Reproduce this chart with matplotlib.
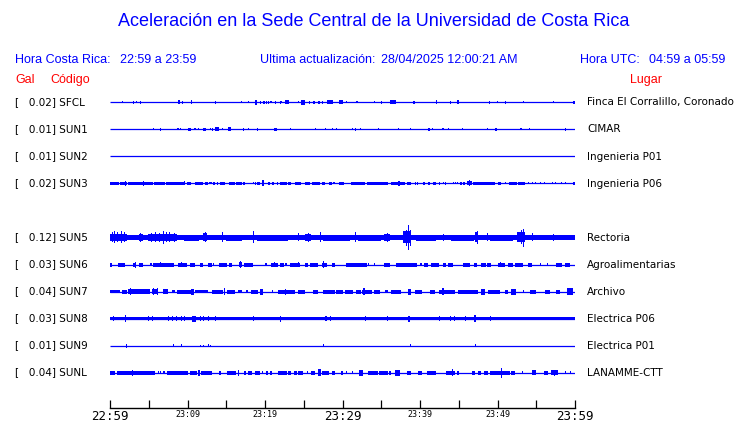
import matplotlib
matplotlib.use("Agg")
import matplotlib.pyplot as plt
from matplotlib.transforms import blended_transform_factory

# estaciones (fila, codigo, pico en Gal, lugar)
CODES = ["SFCL", "SUN1", "SUN2", "SUN3", "SUN5", "SUN6", "SUN7", "SUN8", "SUN9", "SUNL"]
ROWS = [0, 1, 2, 3, 5, 6, 7, 8, 9, 10]
GAL = [0.02, 0.01, 0.01, 0.02, 0.12, 0.03, 0.04, 0.03, 0.01, 0.04]
PLACES = ["Finca El Corralillo, Coronado", "CIMAR", "Ingenieria P01", "Ingenieria P06",
          "Rectoria", "Agroalimentarias", "Archivo", "Electrica P06", "Electrica P01",
          "LANAMME-CTT"]
# ancho base de cada traza (mitad, en px de amplitud)
BASE = [0.5, 0.5, 0.5, 0.5, 2.5, 0.5, 0.5, 1.8, 0.5, 0.5]

TICK_MIN = list(range(0, 61, 5))
TICK_LABELS = ["22:59", "", "23:09", "", "23:19", "", "23:29", "", "23:39", "", "23:49", "", "23:59"]

# rafagas: (minuto inicio, minuto fin, media amplitud)
SFCL_B = [(1.6,1.6,1),(3.0,3.0,1.5),(3.4,3.4,1),(3.9,3.9,1.5),(8.8,9.0,2),(9.3,9.3,1.5),(10.4,10.6,2),
          (13.5,13.5,1.5),(16.9,16.9,1),(17.8,17.8,1),(18.7,19.0,2.5),(19.3,19.3,1.5),(19.8,19.8,1.5),
          (20.1,20.1,1.5),(20.4,20.4,1.5),(20.7,20.7,1),(21.3,21.3,1.5),(21.9,21.9,1.5),(22.1,22.1,1),
          (22.6,23.1,2),(24.2,24.2,1),(24.7,25.2,2.5),(25.7,25.7,1.5),(26.2,26.5,1.5),(26.9,26.9,1.5),
          (27.3,27.3,1.5),(28.0,28.8,2),(29.5,30.0,2),(30.5,30.5,1),(31.8,31.8,1),(34.0,34.0,1),
          (35.0,35.1,1.5),(36.1,36.9,2),(39.1,39.4,1.5),(42.1,42.1,2),(43.9,43.9,1.5),(44.8,45.0,2),
          (48.9,48.9,1.5),(49.9,49.9,1),(51.0,51.0,1.5),(53.3,53.3,1),(57.2,57.2,1),(59.8,59.8,1.5)]
SUN1_B = [(5.6,5.6,1),(6.4,6.5,1.5),(8.7,8.7,1),(9.0,9.0,1),(10.1,10.4,1.5),(10.9,10.9,1),(11.3,11.3,1),
          (12.0,12.4,1.5),(12.9,12.9,1),(13.1,13.3,1.5),(13.5,14.1,2),(14.5,14.5,1),(15.2,15.6,2),
          (17.2,17.2,1.5),(17.8,17.8,1),(19.0,19.0,1.5),(21.2,21.5,1.5),(23.2,23.2,1),(26.4,26.4,1),
          (27.7,27.7,1),(28.6,28.6,1),(29.2,29.2,1),(31.2,31.2,1),(31.6,31.8,1.5),(32.3,32.3,1),
          (34.6,34.6,1),(37.1,37.1,1),(38.7,38.7,1),(41.0,41.3,1.5),(41.5,41.5,1),(42.9,42.9,1),
          (43.6,43.6,1),(45.4,45.4,1),(48.6,48.6,1),(49.7,49.9,1.5),(52.9,53.1,1),(54.0,54.0,1),
          (58.7,58.9,1.5)]
SUN2_B = [(47.1,47.1,0.8)]
SUN3_B = [(0.0,1.1,1.5),(1.3,2.2,1.5),(1.9,1.9,2.5),(2.3,5.6,1.5),(4.3,4.3,2.5),(5.7,7.1,1.5),(7.2,8.6,1.5),
          (8.7,9.7,1.5),(9.6,9.6,2),(9.9,10.5,1.5),(11.0,12.0,1.5),(12.3,12.7,1.5),(12.8,13.1,1),
          (13.3,13.5,1.5),(13.8,14.0,1.5),(14.2,14.8,1.5),(15.3,16.1,1.5),(16.3,17.0,1.5),(17.2,17.4,1.5),
          (18.4,18.4,1),(18.7,18.7,1.5),(19.0,19.3,1.5),(19.6,19.9,3),(20.4,20.6,1.5),(20.9,21.2,1.5),
          (21.5,21.7,1.5),(21.9,22.8,1.5),(23.0,23.4,1.5),(23.9,24.7,1.5),(25.1,25.8,1.5),(26.0,27.1,1.5),
          (27.3,27.8,1.5),(28.3,28.6,1.5),(28.8,29.0,1),(29.5,30.2,1.5),(31.1,32.9,1.5),(33.1,35.9,1.5),
          (36.3,38.1,1.5),(37.2,37.4,2.5),(38.3,38.8,1.5),(39.3,39.3,1.5),(39.6,39.6,1.5),(40.4,40.6,1.5),
          (41.0,41.3,1.5),(41.7,42.1,1.5),(42.5,42.5,1.5),(43.0,43.0,1),(43.2,43.4,1.5),(44.2,44.2,1),
          (44.5,44.5,1),(44.8,44.8,1),(45.2,45.4,1.5),(45.6,45.8,1.5),(46.0,46.7,2),(46.3,46.3,3),
          (46.9,49.7,1.5),(50.1,50.5,1.5),(51.0,51.0,1),(51.5,52.5,1.5),(52.7,53.6,1.5),(53.9,53.9,1),
          (54.4,54.4,1),(54.8,54.8,1),(55.5,55.5,1),(56.0,56.0,1),(57.0,57.0,1),(57.4,57.4,1),
          (58.2,58.2,1),(58.7,58.7,1),(59.8,59.8,1.5)]
SUN5_B = [(0.0,2.2,3.5),(0.2,0.2,5),(0.5,0.5,6),(0.9,0.9,5),(1.4,1.4,6),(1.8,1.8,5),(3.7,4.3,3.5),(3.9,3.9,4.5),
          (4.9,8.6,3.5),(5.3,5.3,4.5),(5.8,5.8,5),(6.3,6.3,4.5),(6.8,6.8,6.5),(7.2,7.2,5),(7.6,7.6,5),
          (8.2,8.2,4.5),(9.5,11.5,3),(12.0,12.5,4),(12.2,12.2,5),(14.4,14.4,5),(15.0,17.0,3),(18.5,18.5,6),
          (19.0,23.0,3),(24.3,24.3,4),(25.2,26.0,3.5),(25.6,25.6,4.5),(27.1,27.1,5),(27.5,31.0,3),
          (31.6,31.6,5),(32.0,35.0,3),(35.3,36.1,3.5),(35.7,35.7,4.5),(37.8,38.9,6),(38.2,38.2,8),
          (38.5,38.5,12),(38.7,38.7,8),(39.5,42.0,3),(43.0,43.0,3.5),(44.0,47.0,3),(47.1,47.5,5),
          (47.3,47.3,6.5),(48.6,48.6,4),(49.0,52.0,3),(52.5,53.6,5),(53.0,53.0,7),(53.3,53.3,9),
          (54.4,54.4,4),(57.2,57.2,3.5)]
SUN6_B = [(0.0,0.3,2),(1.0,1.9,2),(3.0,3.4,2),(3.2,3.2,3),(3.7,4.3,2),(5.2,5.4,1.5),(5.6,8.2,2),(6.5,6.5,2.5),
          (8.8,9.9,2),(9.2,9.2,2.5),(10.3,11.0,2),(11.6,12.0,2),(12.7,13.1,2),(13.3,13.3,1.5),(14.0,15.1,2),
          (15.3,15.7,2),(16.6,17.0,2.5),(16.8,16.8,3.5),(17.3,18.5,2),(20.0,20.2,1.5),(20.8,21.7,2),
          (21.1,21.1,2.5),(21.9,22.4,2),(22.6,22.8,1.5),(23.2,24.5,2),(24.2,24.2,2.5),(25.1,25.6,2),
          (25.8,26.9,2),(27.3,28.0,2),(27.5,27.5,3.5),(28.6,29.0,2),(30.4,33.1,2),(33.3,33.3,1.5),
          (34.0,34.0,1.5),(35.4,36.1,2),(36.9,39.6,2),(40.0,40.2,1.5),(40.5,41.0,2),(41.4,42.4,2),
          (43.0,43.3,2),(43.6,44.2,2),(45.5,46.4,2),(47.0,47.3,2),(47.9,48.5,2),(48.7,49.2,2),
          (50.0,51.0,2),(50.3,50.3,2.5),(51.3,52.0,2),(52.2,53.3,2),(53.9,54.4,2),(55.5,55.5,1.5),
          (56.4,56.4,1.5),(57.6,58.3,2),(58.7,59.4,2)]
SUN7_B = [(0.0,1.3,1.5),(1.5,2.2,2),(2.3,5.2,2.5),(2.6,2.6,3.5),(5.4,6.2,2.5),(5.6,5.6,3.5),(6.0,6.0,3.5),
          (6.9,7.5,2.5),(8.0,8.4,1.5),(8.6,10.5,2),(10.5,10.8,3),(11.0,12.7,1.5),(13.1,14.6,2),(14.7,14.7,3.5),
          (15.1,16.1,2),(16.5,17.0,1.5),(17.5,17.8,1.5),(18.2,19.1,2),(19.4,19.8,3),(20.9,20.9,1.5),
          (21.7,22.8,2),(22.6,22.6,3),(22.9,23.9,2),(24.2,25.2,2),(26.2,26.9,2),(27.5,29.0,2),
          (29.2,30.1,2),(30.3,31.4,2),(31.7,32.4,2),(32.5,33.8,2),(32.7,32.7,3.5),(34.0,34.8,2),
          (35.5,35.9,1.5),(36.3,37.6,2),(38.5,38.8,3),(39.3,40.2,2),(41.3,41.9,2),(42.4,44.5,2),
          (42.9,42.9,3.5),(44.9,47.5,2),(47.9,48.4,3),(48.8,50.3,2),(51.0,51.4,2),(51.7,52.4,3),
          (53.3,53.3,1.5),(54.2,55.0,2),(56.1,56.8,2),(57.6,58.1,2),(59.0,59.8,3.5)]
SUN8_B = [(0.4,0.4,2.5),(1.9,1.9,3.5),(4.9,4.9,2.5),(5.4,5.4,2.5),(7.5,7.5,2.5),(8.0,8.0,2.5),(8.5,8.5,2.5),
          (9.2,9.2,2.5),(9.5,9.5,2.5),(10.6,11.1,3),(11.6,11.6,2.5),(12.0,12.0,2.5),(12.6,12.6,2.5),
          (13.5,13.5,2.5),(18.5,18.5,2.5),(21.9,21.9,3),(27.8,27.8,2.5),(28.4,28.4,2.5),(32.9,32.9,2.5),
          (35.7,35.7,2.5),(38.5,38.7,3),(42.5,42.5,2.5),(43.9,43.9,2.5),(44.4,44.4,2.5),(45.8,45.8,2.5),
          (47.0,47.2,3.5),(49.0,49.0,2.5)]
SUN9_B = [(2.0,2.0,2),(8.1,8.1,1.5),(9.2,9.2,1.5),(11.6,11.6,1),(12.0,12.0,1),(12.6,12.6,1.5),
          (12.9,12.9,1),(27.5,27.5,1.5),(38.7,38.7,1.5),(47.1,47.1,1.5)]
SUNL_B = [(0.0,0.6,2),(0.9,2.8,2),(2.8,2.9,3),(3.0,5.8,2),(6.2,6.2,1.5),(6.5,6.5,1.5),(6.9,6.9,1.5),
          (7.3,10.1,2),(10.3,11.2,2),(11.3,11.6,3),(11.8,13.1,2),(14.0,14.3,2),(15.1,16.3,2),(16.5,16.5,3),
          (17.3,17.5,2),(17.8,18.3,2),(18.7,19.4,2),(19.6,19.6,1.5),(20.1,20.4,2),(20.6,20.9,2),
          (21.7,22.8,2),(23.0,23.4,2),(23.7,24.1,2),(24.3,24.9,2),(25.4,25.4,1.5),(25.9,26.4,2),
          (26.9,27.2,3.5),(27.3,28.3,2),(28.6,29.0,2),(29.8,30.1,2),(30.5,30.5,1.5),(31.2,31.2,1.5),
          (32.1,32.6,3),(33.3,34.6,2),(34.7,35.9,2),(36.0,36.3,2),(36.8,37.4,3),(38.3,38.9,2),
          (39.8,40.2,2),(40.9,42.1,2),(43.4,44.5,2),(44.1,44.1,3.5),(44.8,45.0,2),(46.7,47.1,2),
          (47.5,47.9,2),(48.3,48.8,2),(49.0,51.6,2),(50.4,50.4,5),(51.8,52.2,2),(53.1,53.1,1.5),
          (54.4,55.0,2.5),(56.0,56.5,2),(56.9,57.8,2.5),(57.3,57.3,3),(58.7,58.7,1.5),(59.3,59.3,1.5)]
BURSTS = [SFCL_B, SUN1_B, SUN2_B, SUN3_B, SUN5_B, SUN6_B, SUN7_B, SUN8_B, SUN9_B, SUNL_B]

BLUE = "#0000ff"
RED = "#ff0000"
W, H = 740, 423
AMP = 1 / 27.0      # px de amplitud -> unidades de fila
SPIKE_W = 0.14      # ancho minimo de un pico (min)

fig = plt.figure(figsize=(W / 100, H / 100), dpi=100)
fig.patch.set_facecolor("white")

def fx(x):
    return x / W

def fy(y):
    return 1 - y / H

ax = fig.add_axes([fx(110), fy(408), fx(465), (408 - 88) / H])
ax.set_xlim(0, 60)
ax.set_ylim((408 - 102.5) / 27, (88 - 102.5) / 27)
for s in ["top", "left", "right"]:
    ax.spines[s].set_visible(False)
ax.spines["bottom"].set_linewidth(1.0)
ax.set_yticks([])
ax.set_xticks(TICK_MIN)
ax.set_xticklabels(TICK_LABELS, family="DejaVu Sans Mono")
ax.tick_params(axis="x", direction="in", length=6, width=0.9, pad=1.5)
for lab, txt in zip(ax.get_xticklabels(), TICK_LABELS):
    lab.set_fontsize(9 if txt in ("22:59", "23:29", "23:59") else 6)

for row, base, bursts in zip(ROWS, BASE, BURSTS):
    ax.hlines(row, 0, 60, color=BLUE, lw=0.9)
    if base > 0.6:
        ax.bar(0, 2 * base * AMP, width=60, bottom=row - base * AMP, align="edge",
               color=BLUE, linewidth=0)
    t0 = [b[0] for b in bursts]
    wd = [max(b[1] - b[0], SPIKE_W) for b in bursts]
    amp = [b[2] * AMP for b in bursts]
    ax.bar(t0, [2 * a for a in amp], width=wd, bottom=[row - a for a in amp],
           align="edge", color=BLUE, linewidth=0)

tr = blended_transform_factory(fig.transFigure, ax.transData)
for row, gal, code, place in zip(ROWS, GAL, CODES, PLACES):
    ax.text(fx(15), row, "[   %.2f] %s" % (gal, code), transform=tr, fontsize=7.5,
            va="center", ha="left", family="DejaVu Sans")
    ax.text(fx(587), row, place, transform=tr, fontsize=7.5, va="center", ha="left",
            family="DejaVu Sans")

hdr = dict(family="Liberation Sans", fontsize=9, color=BLUE, va="center")
fig.text(0.5 + 4 / W, fy(22), "Aceleración en la Sede Central de la Universidad de Costa Rica",
         ha="center", va="center", family="Liberation Sans", fontsize=13, color=BLUE)
fig.text(fx(15), fy(60), "Hora Costa Rica:", ha="left", **hdr)
fig.text(fx(120), fy(60), "22:59 a 23:59", ha="left", **hdr)
fig.text(fx(260), fy(60), "Ultima actualización:", ha="left", **hdr)
fig.text(fx(381), fy(60), "28/04/2025 12:00:21 AM", ha="left", **hdr)
fig.text(fx(580), fy(60), "Hora UTC:", ha="left", **hdr)
fig.text(fx(725), fy(60), "04:59 a 05:59", ha="right", **hdr)

red = dict(family="Liberation Sans", fontsize=9, color=RED, va="center")
fig.text(fx(15), fy(80), "Gal", ha="left", **red)
fig.text(fx(50), fy(80), "Código", ha="left", **red)
fig.text(fx(630), fy(80), "Lugar", ha="left", **red)

fig.savefig("out.png", dpi=100, facecolor="white")
